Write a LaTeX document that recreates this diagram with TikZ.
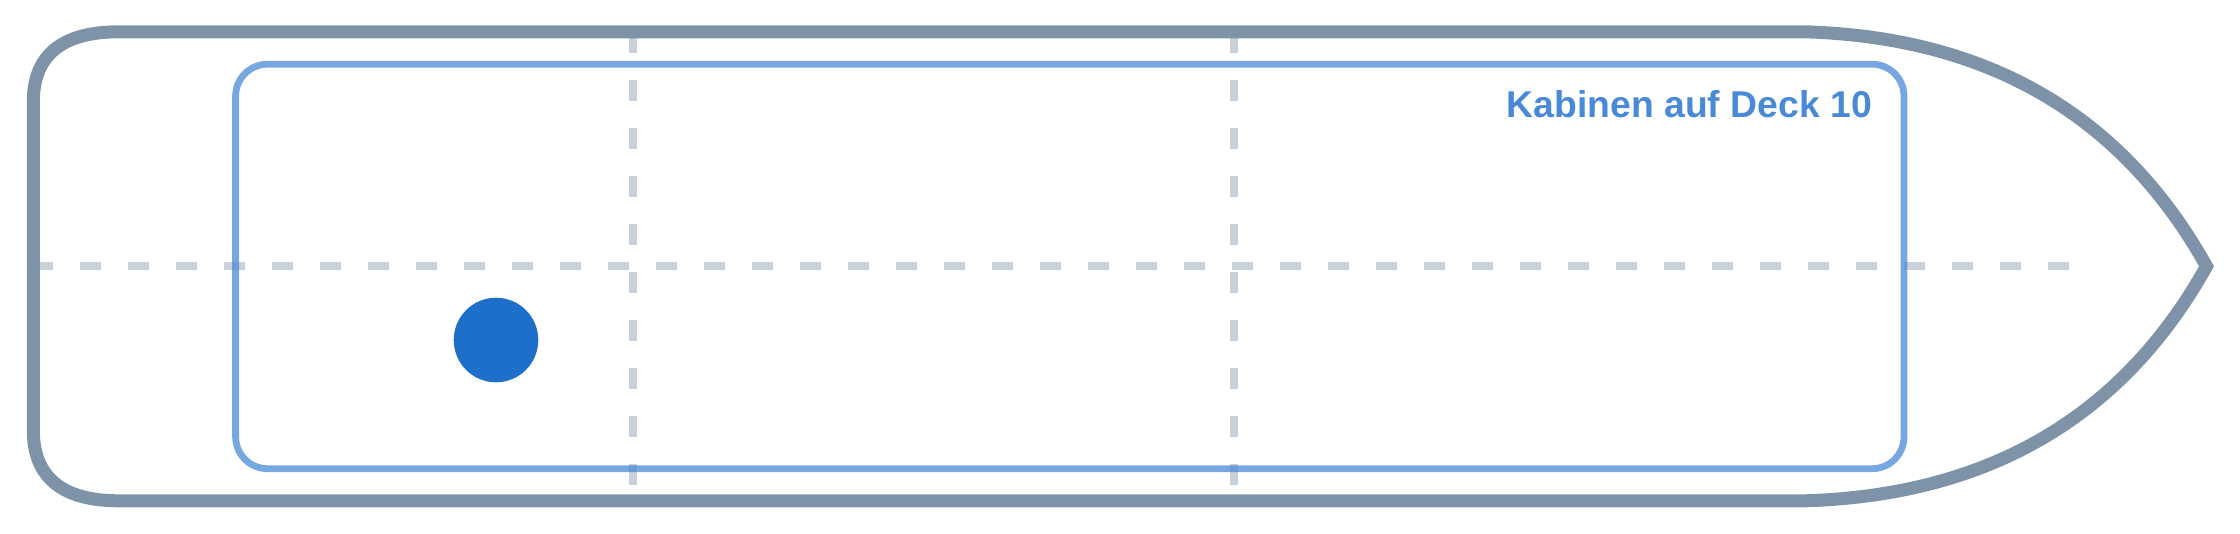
\documentclass[tikz,border=0pt]{standalone}
\usepackage{fontspec}
\setmainfont{Liberation Sans}
\definecolor{hullc}{HTML}{7F93A8}
\definecolor{gridc}{HTML}{4A6580}
\definecolor{cabinc}{HTML}{4A8AD6}
\definecolor{labelc}{HTML}{4A89D6}
\definecolor{dotc}{HTML}{1E6FCA}
\tikzset{
  hull/.style={draw=hullc, line width=13pt, line join=miter},
  gridline/.style={draw=gridc, draw opacity=0.3, line width=8pt, dash pattern=on 21.33pt off 26.67pt},
  cabin/.style={draw=cabinc, draw opacity=0.75, line width=6.8pt, rounded corners=32pt},
  decklabel/.style={text=labelc, font=\bfseries\fontsize{37.3}{44}\selectfont, inner sep=0pt, anchor=base east},
  dot/.style={circle, fill=dotc, draw=none, minimum size=84.6pt, inner sep=0pt}
}
\begin{document}
\begin{tikzpicture}[x=1pt,y=-1pt]
\useasboundingbox (0,0) rectangle (2240,533);
% grid lines
\draw[gridline] (32,266.3) -- (2080,266.3);
\draw[gridline] (633.2,32) -- (633.2,500);
\draw[gridline] (1233.5,32) -- (1233.5,500);
% cabin area
\draw[cabin] (235.6,64.2) rectangle (1904,468.7);
% hull
\draw[hull] (119,31.8) -- (1805,31.8)
  .. controls (1988.3,37.3) and (2122.2,115.4) .. (2206.5,266.3)
  .. controls (2122.2,417.2) and (1988.3,495.3) .. (1805,500.8) -- (119,500.8)
  .. controls (61.9,500.8) and (33.3,477.2) .. (33.3,430) -- (33.3,102)
  .. controls (33.3,55.2) and (61.9,31.8) .. (119,31.8) -- cycle;
% label and marker
\node[decklabel] (label) at (1872,117) {Kabinen auf Deck 10};
\node[dot] (cabin) at (496,340) {};
\end{tikzpicture}
\end{document}
